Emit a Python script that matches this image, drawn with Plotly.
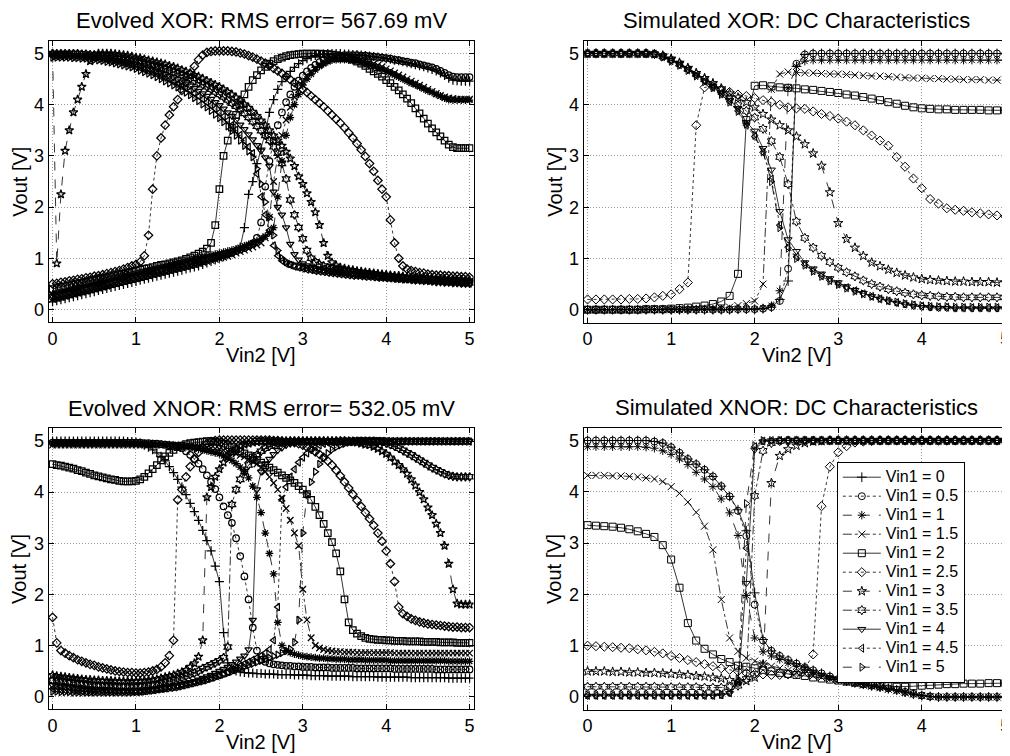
import plotly.graph_objects as go

# ---------------- shared labels / styles ----------------
VIN1_LABELS = ["Vin1 = 0", "Vin1 = 0.5", "Vin1 = 1", "Vin1 = 1.5", "Vin1 = 2", "Vin1 = 2.5",
               "Vin1 = 3", "Vin1 = 3.5", "Vin1 = 4", "Vin1 = 4.5", "Vin1 = 5"]
SYMBOLS = ["cross-thin-open", "circle-open", "asterisk-open", "x-thin-open", "square-open",
           "diamond-open", "star-open", "hexagram-open", "triangle-down-open",
           "triangle-left-open", "triangle-right-open"]
DASHES = ["solid", "dot", "dash", "dashdot", "solid", "dot", "dash", "dashdot", "solid", "dot", "dash"]
TICKS = [0, 1, 2, 3, 4, 5]
TITLES = ["Evolved XOR: RMS error= 567.69 mV", "Simulated XOR: DC Characteristics",
          "Evolved XNOR: RMS error= 532.05 mV", "Simulated XNOR: DC Characteristics"]

# Vin2 sweep grids
X_EVOLVED = [round(0.05 * i, 2) for i in range(101)]
X_SIM = [round(0.1 * i, 1) for i in range(51)]

# ---------------- Evolved XOR (Vout per Vin2 step of 0.05 V) ----------------
XOR_EVO_0 = [0.15,0.17,0.19,0.21,0.23,0.25,0.27,0.29,0.31,0.33,
             0.35,0.37,0.39,0.41,0.43,0.45,0.47,0.49,0.51,0.53,
             0.55,0.57,0.59,0.61,0.63,0.65,0.67,0.69,0.71,0.73,
             0.75,0.77,0.79,0.81,0.83,0.85,0.88,0.91,0.94,0.97,
             1.00,1.03,1.07,1.11,1.16,1.22,1.60,2.25,2.50,2.85,
             3.15,3.45,3.85,4.10,4.30,4.45,4.55,4.65,4.73,4.80,
             4.86,4.90,4.94,4.96,4.98,4.99,5.00,5.00,5.00,5.00,
             4.99,4.99,4.98,4.98,4.97,4.96,4.95,4.94,4.93,4.92,
             4.90,4.89,4.87,4.86,4.84,4.82,4.80,4.78,4.76,4.74,
             4.72,4.69,4.66,4.62,4.57,4.52,4.48,4.47,4.46,4.46,
             4.46]
XOR_EVO_05 = [0.25,0.27,0.29,0.31,0.33,0.35,0.37,0.39,0.41,0.43,
              0.45,0.47,0.49,0.51,0.53,0.55,0.57,0.59,0.61,0.63,
              0.65,0.67,0.69,0.71,0.73,0.75,0.77,0.79,0.81,0.83,
              0.85,0.87,0.89,0.91,0.93,0.95,0.97,0.99,1.01,1.03,
              1.05,1.07,1.09,1.11,1.14,1.17,1.20,1.24,1.29,1.40,
              1.70,2.40,2.90,3.30,3.60,3.85,4.05,4.20,4.35,4.47,
              4.57,4.65,4.72,4.78,4.83,4.87,4.90,4.93,4.95,4.96,
              4.97,4.97,4.97,4.97,4.96,4.96,4.95,4.94,4.93,4.92,
              4.91,4.90,4.88,4.87,4.85,4.84,4.82,4.81,4.79,4.77,
              4.75,4.73,4.70,4.66,4.62,4.58,4.55,4.54,4.54,4.54,
              4.54]
XOR_EVO_1 = [0.30,0.32,0.34,0.36,0.38,0.40,0.42,0.44,0.46,0.48,
             0.50,0.52,0.54,0.56,0.58,0.60,0.62,0.64,0.66,0.68,
             0.70,0.72,0.74,0.76,0.78,0.80,0.82,0.84,0.86,0.88,
             0.90,0.92,0.94,0.96,0.98,1.00,1.02,1.04,1.06,1.08,
             1.10,1.12,1.14,1.16,1.18,1.21,1.24,1.27,1.30,1.34,
             1.38,1.43,1.50,1.60,2.20,2.90,3.40,3.75,4.00,4.20,
             4.38,4.50,4.60,4.68,4.75,4.80,4.84,4.87,4.88,4.88,
             4.88,4.87,4.86,4.85,4.83,4.81,4.78,4.75,4.72,4.69,
             4.65,4.62,4.58,4.54,4.50,4.46,4.42,4.39,4.35,4.31,
             4.27,4.24,4.20,4.17,4.13,4.10,4.09,4.09,4.09,4.09,
             4.09]
XOR_EVO_15 = [0.20,0.22,0.24,0.26,0.28,0.30,0.32,0.34,0.36,0.38,
              0.40,0.42,0.44,0.46,0.48,0.50,0.52,0.54,0.56,0.58,
              0.60,0.62,0.64,0.66,0.68,0.70,0.72,0.74,0.76,0.78,
              0.80,0.82,0.84,0.86,0.88,0.90,0.92,0.94,0.96,0.98,
              1.00,1.02,1.04,1.07,1.10,1.13,1.16,1.19,1.22,1.26,
              1.30,1.40,1.80,2.50,3.00,3.40,3.70,3.95,4.15,4.30,
              4.45,4.55,4.64,4.72,4.78,4.83,4.87,4.90,4.92,4.93,
              4.93,4.92,4.91,4.90,4.88,4.86,4.83,4.80,4.77,4.74,
              4.70,4.66,4.62,4.58,4.54,4.50,4.46,4.42,4.38,4.34,
              4.30,4.26,4.22,4.18,4.15,4.13,4.12,4.11,4.11,4.11,
              4.11]
XOR_EVO_2 = [0.40,0.42,0.44,0.45,0.47,0.49,0.51,0.52,0.54,0.56,
             0.58,0.60,0.62,0.63,0.65,0.67,0.69,0.70,0.72,0.74,
             0.76,0.78,0.80,0.81,0.83,0.85,0.87,0.88,0.90,0.92,
             0.94,0.96,0.99,1.02,1.05,1.09,1.13,1.19,1.30,1.65,
             2.35,3.00,3.30,3.55,3.80,4.00,4.20,4.35,4.48,4.58,
             4.67,4.74,4.80,4.85,4.89,4.92,4.95,4.97,4.98,4.99,
             5.00,5.00,5.00,5.00,5.00,4.99,4.99,4.98,4.97,4.95,
             4.93,4.91,4.88,4.84,4.80,4.76,4.70,4.65,4.60,4.55,
             4.48,4.42,4.35,4.28,4.20,4.12,4.03,3.93,3.83,3.73,
             3.63,3.54,3.46,3.38,3.30,3.22,3.17,3.15,3.15,3.15,
             3.15]
XOR_EVO_25 = [0.50,0.51,0.53,0.54,0.56,0.57,0.59,0.60,0.62,0.63,
              0.65,0.66,0.68,0.70,0.72,0.74,0.76,0.79,0.82,0.85,
              0.88,0.93,1.05,1.45,2.35,3.00,3.35,3.60,3.80,3.96,
              4.10,4.28,4.45,4.60,4.75,4.88,4.97,5.02,5.04,5.05,
              5.05,5.05,5.05,5.04,5.03,5.01,4.99,4.96,4.93,4.89,
              4.85,4.81,4.76,4.71,4.66,4.61,4.55,4.49,4.43,4.37,
              4.30,4.24,4.17,4.10,4.03,3.96,3.88,3.80,3.72,3.64,
              3.55,3.45,3.35,3.24,3.12,2.99,2.85,2.70,2.52,2.35,
              2.20,1.75,1.30,1.00,0.85,0.79,0.76,0.74,0.72,0.71,
              0.69,0.68,0.67,0.67,0.66,0.66,0.65,0.65,0.64,0.64,
              0.63]
XOR_EVO_3 = [5.00,0.90,2.25,3.10,3.50,3.85,4.10,4.35,4.60,4.85,
             4.97,5.00,5.00,5.00,5.00,4.99,4.98,4.97,4.96,4.94,
             4.92,4.91,4.89,4.87,4.85,4.83,4.81,4.79,4.76,4.74,
             4.71,4.68,4.65,4.62,4.58,4.55,4.51,4.47,4.43,4.39,
             4.35,4.30,4.25,4.20,4.14,4.08,4.01,3.94,3.86,3.78,
             3.69,3.60,3.50,3.40,3.30,3.20,3.08,2.95,2.80,2.60,
             2.45,2.27,2.10,1.90,1.65,1.30,1.05,0.92,0.86,0.82,
             0.80,0.78,0.77,0.75,0.74,0.73,0.72,0.71,0.70,0.69,
             0.68,0.67,0.66,0.66,0.65,0.64,0.63,0.63,0.62,0.62,
             0.61,0.61,0.60,0.60,0.59,0.59,0.58,0.58,0.58,0.57,
             0.57]
XOR_EVO_35 = [5.00,5.00,5.00,5.00,5.00,5.00,5.00,4.99,4.99,4.98,
              4.97,4.96,4.95,4.94,4.93,4.92,4.91,4.90,4.88,4.87,
              4.85,4.83,4.81,4.79,4.77,4.75,4.72,4.70,4.67,4.64,
              4.61,4.58,4.55,4.51,4.47,4.43,4.39,4.35,4.30,4.25,
              4.20,4.15,4.09,4.03,3.97,3.90,3.83,3.75,3.67,3.58,
              3.49,3.40,3.30,3.18,3.05,2.85,2.55,2.14,1.85,1.60,
              1.38,1.15,1.00,0.93,0.88,0.85,0.82,0.80,0.78,0.77,
              0.76,0.75,0.73,0.72,0.71,0.70,0.69,0.68,0.67,0.66,
              0.66,0.65,0.64,0.63,0.62,0.61,0.61,0.60,0.59,0.58,
              0.58,0.57,0.56,0.56,0.55,0.55,0.54,0.54,0.53,0.53,
              0.52]
XOR_EVO_4 = [4.98,4.98,4.98,4.98,4.98,4.97,4.97,4.96,4.96,4.95,
             4.94,4.93,4.92,4.91,4.90,4.88,4.87,4.85,4.83,4.81,
             4.79,4.77,4.74,4.72,4.69,4.66,4.63,4.60,4.56,4.53,
             4.49,4.45,4.41,4.37,4.32,4.27,4.22,4.17,4.11,4.05,
             3.99,3.92,3.85,3.78,3.70,3.61,3.52,3.42,3.32,3.21,
             3.10,2.97,2.80,2.30,2.00,1.85,1.60,1.28,1.08,0.97,
             0.90,0.86,0.83,0.81,0.79,0.77,0.76,0.75,0.74,0.73,
             0.72,0.71,0.70,0.69,0.68,0.67,0.66,0.65,0.64,0.63,
             0.62,0.61,0.60,0.59,0.58,0.58,0.57,0.56,0.56,0.55,
             0.55,0.54,0.53,0.53,0.52,0.52,0.51,0.51,0.50,0.50,
             0.50]
XOR_EVO_45 = [4.95,4.95,4.95,4.95,4.95,4.94,4.94,4.93,4.93,4.92,
              4.91,4.90,4.89,4.88,4.86,4.85,4.83,4.81,4.79,4.77,
              4.74,4.72,4.69,4.66,4.63,4.60,4.56,4.53,4.49,4.45,
              4.41,4.37,4.32,4.27,4.22,4.17,4.11,4.05,3.99,3.92,
              3.85,3.77,3.69,3.60,3.51,3.41,3.30,3.18,3.05,2.65,
              2.20,1.85,1.55,1.25,1.05,0.95,0.90,0.87,0.84,0.82,
              0.80,0.78,0.77,0.75,0.74,0.73,0.72,0.71,0.70,0.69,
              0.68,0.67,0.66,0.66,0.65,0.64,0.64,0.63,0.62,0.62,
              0.61,0.61,0.60,0.60,0.59,0.59,0.58,0.58,0.57,0.57,
              0.56,0.56,0.55,0.55,0.54,0.54,0.53,0.53,0.52,0.52,
              0.51]
XOR_EVO_5 = [4.92,4.92,4.92,4.92,4.92,4.91,4.91,4.90,4.90,4.89,
             4.88,4.87,4.86,4.84,4.83,4.81,4.79,4.77,4.75,4.73,
             4.70,4.67,4.64,4.61,4.58,4.54,4.50,4.46,4.42,4.38,
             4.34,4.29,4.24,4.19,4.13,4.07,4.01,3.95,3.88,3.81,
             3.74,3.66,3.58,3.49,3.40,3.30,3.20,3.09,2.98,2.75,
             2.45,2.10,1.80,1.45,1.15,1.00,0.93,0.89,0.86,0.84,
             0.83,0.81,0.80,0.78,0.77,0.76,0.75,0.74,0.73,0.72,
             0.71,0.70,0.69,0.68,0.68,0.67,0.66,0.66,0.65,0.64,
             0.64,0.63,0.63,0.62,0.62,0.61,0.61,0.60,0.60,0.59,
             0.59,0.58,0.58,0.57,0.57,0.57,0.56,0.56,0.56,0.55,
             0.55]

# ---------------- Evolved XNOR ----------------
XNOR_EVO_0 = [5.00,5.00,5.00,5.00,5.00,5.00,5.00,5.00,5.00,5.00,
              5.00,5.00,5.00,5.00,5.00,5.00,5.00,5.00,4.99,4.99,
              4.98,4.96,4.92,4.88,4.83,4.77,4.70,4.61,4.50,4.38,
              4.25,4.10,3.95,3.78,3.62,3.45,3.25,3.05,2.85,2.55,
              2.25,1.25,0.66,0.55,0.50,0.48,0.47,0.46,0.46,0.45,
              0.45,0.44,0.44,0.44,0.43,0.43,0.43,0.43,0.42,0.42,
              0.42,0.42,0.41,0.41,0.41,0.41,0.40,0.40,0.40,0.40,
              0.40,0.40,0.39,0.39,0.39,0.39,0.39,0.39,0.38,0.38,
              0.38,0.38,0.38,0.38,0.38,0.38,0.37,0.37,0.37,0.37,
              0.37,0.37,0.37,0.37,0.37,0.36,0.36,0.36,0.36,0.36,
              0.36]
XNOR_EVO_05 = [4.97,4.97,4.97,4.97,4.97,4.97,4.97,4.97,4.97,4.97,
               4.97,4.97,4.97,4.97,4.97,4.97,4.97,4.97,4.97,4.97,
               4.97,4.97,4.96,4.96,4.95,4.95,4.94,4.93,4.92,4.91,
               4.90,4.86,4.80,4.73,4.65,4.56,4.45,4.33,4.20,4.06,
               3.90,3.72,3.55,3.40,3.10,2.75,2.35,1.90,1.35,0.90,
               0.72,0.68,0.65,0.63,0.62,0.61,0.60,0.60,0.59,0.59,
               0.58,0.58,0.58,0.57,0.57,0.57,0.57,0.56,0.56,0.56,
               0.56,0.56,0.56,0.55,0.55,0.55,0.55,0.55,0.55,0.55,
               0.55,0.55,0.54,0.54,0.54,0.54,0.54,0.54,0.54,0.54,
               0.54,0.54,0.53,0.53,0.53,0.53,0.53,0.53,0.53,0.53,
               0.53]
XNOR_EVO_1 = [4.95,4.95,4.95,4.95,4.95,4.95,4.95,4.95,4.95,4.95,
              4.95,4.95,4.95,4.95,4.95,4.95,4.95,4.95,4.95,4.95,
              4.95,4.95,4.95,4.95,4.95,4.94,4.94,4.93,4.93,4.92,
              4.91,4.90,4.89,4.88,4.86,4.85,4.83,4.81,4.79,4.77,
              4.75,4.71,4.67,4.62,4.56,4.49,4.40,4.28,4.12,3.90,
              3.60,3.20,2.80,2.40,1.45,1.00,0.90,0.86,0.83,0.81,
              0.79,0.78,0.77,0.76,0.75,0.75,0.74,0.74,0.73,0.73,
              0.73,0.72,0.72,0.72,0.72,0.71,0.71,0.71,0.71,0.71,
              0.71,0.70,0.70,0.70,0.70,0.70,0.70,0.70,0.70,0.70,
              0.70,0.70,0.70,0.70,0.70,0.69,0.69,0.69,0.69,0.69,
              0.69]
XNOR_EVO_15 = [4.92,4.92,4.92,4.92,4.92,4.92,4.92,4.92,4.92,4.92,
               4.92,4.92,4.92,4.92,4.92,4.92,4.92,4.92,4.92,4.92,
               4.92,4.92,4.92,4.92,4.92,4.92,4.92,4.92,4.92,4.91,
               4.91,4.91,4.90,4.90,4.89,4.89,4.88,4.87,4.86,4.85,
               4.84,4.82,4.80,4.78,4.75,4.72,4.69,4.65,4.60,4.55,
               4.48,4.40,4.30,4.18,4.05,3.88,3.68,3.45,3.20,2.95,
               2.10,1.50,1.15,1.00,0.95,0.92,0.90,0.89,0.88,0.88,
               0.87,0.87,0.87,0.86,0.86,0.86,0.86,0.86,0.86,0.86,
               0.86,0.86,0.85,0.85,0.85,0.85,0.85,0.85,0.85,0.85,
               0.85,0.85,0.85,0.85,0.85,0.85,0.85,0.85,0.85,0.85,
               0.85]
XNOR_EVO_2 = [4.55,4.53,4.52,4.50,4.48,4.46,4.43,4.41,4.38,4.36,
              4.33,4.31,4.29,4.27,4.25,4.24,4.22,4.21,4.21,4.21,
              4.22,4.25,4.30,4.37,4.45,4.53,4.62,4.70,4.77,4.83,
              4.88,4.91,4.94,4.96,4.97,4.98,4.99,5.00,5.00,4.99,
              4.98,4.95,4.92,4.88,4.84,4.80,4.76,4.72,4.68,4.63,
              4.58,4.53,4.48,4.43,4.38,4.33,4.28,4.23,4.18,4.12,
              4.05,3.96,3.85,3.71,3.55,3.38,3.20,3.02,2.80,2.45,
              1.90,1.45,1.30,1.23,1.18,1.15,1.13,1.12,1.11,1.11,
              1.10,1.10,1.09,1.09,1.09,1.08,1.08,1.08,1.08,1.07,
              1.07,1.07,1.07,1.06,1.06,1.06,1.06,1.05,1.05,1.05,
              1.05]
XNOR_EVO_25 = [1.55,1.05,0.90,0.85,0.80,0.76,0.72,0.69,0.66,0.63,
               0.61,0.58,0.56,0.54,0.52,0.50,0.49,0.48,0.47,0.47,
               0.46,0.46,0.47,0.48,0.50,0.53,0.58,0.66,0.80,1.10,
               3.85,4.05,4.30,4.50,4.65,4.78,4.88,4.95,4.99,5.01,
               5.02,5.02,5.02,5.02,5.02,5.02,5.02,5.02,5.02,5.02,
               5.02,5.02,5.02,5.01,5.01,5.00,4.99,4.98,4.97,4.95,
               4.92,4.88,4.84,4.79,4.74,4.68,4.61,4.53,4.43,4.32,
               4.20,4.08,3.96,3.84,3.72,3.60,3.48,3.35,3.20,3.04,
               2.85,2.60,2.25,1.75,1.62,1.57,1.52,1.49,1.46,1.44,
               1.42,1.41,1.40,1.39,1.38,1.37,1.36,1.36,1.35,1.35,
               1.35]
XNOR_EVO_3 = [0.42,0.40,0.39,0.38,0.37,0.36,0.35,0.34,0.33,0.33,
              0.32,0.32,0.31,0.31,0.31,0.30,0.30,0.30,0.30,0.30,
              0.30,0.31,0.31,0.32,0.33,0.34,0.36,0.38,0.40,0.42,
              0.45,0.48,0.52,0.58,0.65,0.78,1.10,3.90,4.10,4.30,
              4.45,4.58,4.70,4.78,4.85,4.90,4.93,4.95,4.97,4.98,
              4.99,4.99,5.00,5.00,5.00,5.00,5.00,5.00,5.00,5.00,
              5.00,5.00,5.00,5.00,5.00,5.00,5.00,5.00,5.00,5.00,
              5.00,4.99,4.98,4.97,4.95,4.93,4.92,4.89,4.85,4.80,
              4.75,4.68,4.60,4.53,4.45,4.36,4.25,4.13,4.00,3.86,
              3.70,3.55,3.38,3.20,2.95,2.60,2.10,1.82,1.80,1.80,
              1.80]
XNOR_EVO_35 = [0.32,0.31,0.30,0.29,0.28,0.27,0.26,0.25,0.24,0.23,
               0.22,0.22,0.21,0.21,0.21,0.20,0.20,0.20,0.20,0.20,
               0.20,0.20,0.21,0.22,0.23,0.24,0.26,0.28,0.30,0.33,
               0.35,0.37,0.40,0.43,0.46,0.50,0.55,0.58,0.62,0.66,
               0.70,0.76,0.97,3.76,4.05,4.25,4.40,4.53,4.65,4.73,
               4.80,4.86,4.90,4.93,4.96,4.98,4.99,5.00,5.00,5.00,
               5.00,5.00,5.00,5.00,5.00,5.00,5.00,5.00,5.00,5.00,
               5.00,5.00,5.00,5.00,5.00,5.00,5.00,5.00,4.99,4.98,
               4.96,4.93,4.90,4.86,4.82,4.77,4.73,4.68,4.63,4.58,
               4.53,4.48,4.44,4.40,4.36,4.33,4.31,4.30,4.30,4.30,
               4.30]
XNOR_EVO_4 = [0.22,0.21,0.20,0.19,0.18,0.17,0.16,0.16,0.15,0.15,
              0.14,0.14,0.13,0.13,0.13,0.12,0.12,0.12,0.12,0.12,
              0.12,0.12,0.13,0.14,0.15,0.16,0.17,0.18,0.20,0.21,
              0.22,0.24,0.26,0.28,0.30,0.33,0.36,0.39,0.42,0.46,
              0.50,0.54,0.58,0.63,0.68,0.74,0.80,0.92,1.50,4.05,
              4.40,4.55,4.65,4.74,4.82,4.87,4.92,4.95,4.97,4.99,
              5.00,5.00,5.00,5.00,5.00,5.00,5.00,5.00,5.00,5.00,
              5.00,5.00,5.00,5.00,5.00,5.00,5.00,5.00,5.00,5.00,
              5.00,5.00,5.00,5.00,5.00,5.00,5.00,5.00,5.00,5.00,
              5.00,5.00,5.00,5.00,5.00,5.00,5.00,5.00,5.00,5.00,
              5.00]
XNOR_EVO_45 = [0.15,0.14,0.13,0.13,0.12,0.12,0.11,0.11,0.10,0.10,
               0.10,0.10,0.10,0.10,0.10,0.10,0.10,0.10,0.10,0.10,
               0.10,0.10,0.11,0.12,0.13,0.14,0.15,0.16,0.18,0.19,
               0.20,0.22,0.24,0.26,0.28,0.30,0.32,0.35,0.37,0.40,
               0.42,0.45,0.48,0.52,0.56,0.60,0.64,0.68,0.72,0.76,
               0.80,0.85,0.92,1.10,1.75,3.85,4.10,4.30,4.45,4.58,
               4.68,4.76,4.83,4.88,4.92,4.95,4.97,4.98,4.99,5.00,
               5.00,5.00,5.00,5.00,5.00,5.00,5.00,5.00,5.00,5.00,
               4.99,4.99,4.99,4.99,4.99,4.99,4.99,4.99,4.99,4.99,
               4.99,4.99,4.99,4.99,4.99,4.99,4.99,4.99,4.99,4.99,
               4.99]
XNOR_EVO_5 = [0.10,0.10,0.09,0.09,0.09,0.08,0.08,0.08,0.08,0.08,
              0.08,0.08,0.08,0.08,0.08,0.08,0.08,0.08,0.08,0.08,
              0.09,0.09,0.10,0.11,0.12,0.13,0.14,0.15,0.16,0.17,
              0.18,0.20,0.22,0.24,0.26,0.28,0.30,0.32,0.35,0.37,
              0.40,0.43,0.46,0.49,0.52,0.55,0.58,0.61,0.64,0.67,
              0.70,0.73,0.76,0.79,0.82,0.85,0.89,0.93,1.06,1.50,
              3.20,3.96,4.20,4.40,4.55,4.67,4.76,4.83,4.88,4.92,
              4.95,4.97,4.98,4.99,5.00,5.00,5.00,5.00,5.00,5.00,
              5.00,5.00,5.00,5.00,5.00,5.00,5.00,5.00,5.00,5.00,
              5.00,5.00,5.00,5.00,5.00,5.00,5.00,5.00,5.00,5.00,
              5.00]

# ---------------- Simulated XOR (Vin2 step 0.1 V) ----------------
XOR_SIM_0 = [0.00,0.00,0.00,0.00,0.00,0.00,0.00,0.00,0.00,0.00,
             0.00,0.00,0.00,0.00,0.00,0.00,0.00,0.00,0.01,0.01,
             0.01,0.02,0.05,0.20,0.56,4.75,4.98,5.00,5.00,5.00,
             5.00,5.00,5.00,5.00,5.00,5.00,5.00,5.00,5.00,5.00,
             5.00,5.00,5.00,5.00,5.00,5.00,5.00,5.00,5.00,5.00,
             5.00]
XOR_SIM_05 = [0.00,0.00,0.00,0.00,0.00,0.00,0.00,0.00,0.00,0.00,
              0.00,0.00,0.00,0.00,0.00,0.00,0.00,0.00,0.01,0.01,
              0.01,0.02,0.05,0.17,0.80,4.80,4.98,5.00,5.00,5.00,
              5.00,5.00,5.00,5.00,5.00,5.00,5.00,5.00,5.00,5.00,
              5.00,5.00,5.00,5.00,5.00,5.00,5.00,5.00,5.00,5.00,
              5.00]
XOR_SIM_1 = [0.00,0.00,0.00,0.00,0.00,0.00,0.00,0.00,0.00,0.00,
             0.00,0.00,0.00,0.00,0.00,0.00,0.00,0.00,0.01,0.01,
             0.01,0.03,0.08,0.37,4.33,4.75,4.85,4.87,4.87,4.87,
             4.87,4.87,4.87,4.87,4.87,4.87,4.87,4.87,4.87,4.87,
             4.87,4.87,4.87,4.87,4.87,4.87,4.87,4.87,4.87,4.87,
             4.87]
XOR_SIM_15 = [0.00,0.00,0.00,0.00,0.00,0.00,0.00,0.00,0.00,0.00,
              0.00,0.00,0.00,0.01,0.01,0.02,0.03,0.05,0.08,0.12,
              0.17,0.50,4.30,4.60,4.64,4.63,4.62,4.62,4.61,4.60,
              4.60,4.59,4.58,4.57,4.56,4.56,4.55,4.54,4.53,4.52,
              4.52,4.51,4.51,4.50,4.50,4.49,4.49,4.49,4.48,4.48,
              4.48]
XOR_SIM_2 = [0.00,0.00,0.00,0.00,0.00,0.00,0.00,0.01,0.01,0.01,
             0.02,0.03,0.04,0.06,0.08,0.11,0.16,0.27,0.70,3.70,
             4.37,4.38,4.36,4.34,4.33,4.32,4.30,4.29,4.27,4.25,
             4.23,4.20,4.18,4.15,4.12,4.09,4.05,4.02,3.98,3.95,
             3.93,3.92,3.91,3.91,3.90,3.90,3.90,3.90,3.89,3.89,
             3.89]
XOR_SIM_25 = [0.20,0.20,0.20,0.20,0.20,0.21,0.21,0.22,0.24,0.27,
              0.30,0.40,0.53,3.60,4.34,4.35,4.30,4.25,4.20,4.17,
              4.13,4.09,4.05,4.00,3.95,3.93,3.92,3.87,3.82,3.78,
              3.73,3.67,3.60,3.50,3.40,3.30,3.20,2.98,2.79,2.56,
              2.37,2.16,2.07,1.98,1.95,1.93,1.90,1.88,1.86,1.84,
              1.82]
XOR_SIM_3 = [5.00,5.00,5.00,5.00,5.00,5.00,5.00,5.00,4.99,4.96,
             4.90,4.82,4.72,4.62,4.52,4.42,4.32,4.22,4.14,4.05,
             3.95,3.82,3.71,3.60,3.50,3.38,3.23,3.05,2.81,2.29,
             1.69,1.38,1.21,1.05,0.92,0.85,0.78,0.72,0.67,0.63,
             0.60,0.58,0.57,0.56,0.55,0.55,0.54,0.54,0.54,0.53,
             0.53]
XOR_SIM_35 = [5.00,5.00,5.00,5.00,5.00,5.00,5.00,5.00,4.99,4.95,
              4.88,4.80,4.70,4.60,4.50,4.40,4.28,4.14,3.99,3.88,
              3.75,3.53,3.29,2.98,2.45,1.72,1.40,1.21,1.05,0.93,
              0.82,0.73,0.65,0.57,0.50,0.45,0.40,0.36,0.33,0.30,
              0.28,0.27,0.26,0.25,0.25,0.24,0.24,0.24,0.24,0.24,
              0.24]
XOR_SIM_4 = [5.00,5.00,5.00,5.00,5.00,5.00,5.00,5.00,4.99,4.94,
             4.87,4.79,4.69,4.58,4.47,4.36,4.23,4.09,3.93,3.66,
             3.49,3.15,2.73,1.92,1.37,1.14,0.92,0.80,0.70,0.61,
             0.53,0.45,0.38,0.32,0.26,0.21,0.17,0.13,0.10,0.07,
             0.05,0.04,0.03,0.03,0.02,0.02,0.02,0.02,0.02,0.02,
             0.02]
XOR_SIM_45 = [5.00,5.00,5.00,5.00,5.00,5.00,5.00,5.00,4.99,4.94,
              4.86,4.78,4.68,4.57,4.46,4.34,4.21,4.06,3.88,3.60,
              3.38,3.07,2.55,1.65,1.22,1.03,0.88,0.76,0.66,0.57,
              0.50,0.43,0.37,0.31,0.26,0.21,0.17,0.14,0.11,0.09,
              0.07,0.06,0.05,0.05,0.04,0.04,0.04,0.04,0.04,0.04,
              0.04]
XOR_SIM_5 = [5.00,5.00,5.00,5.00,5.00,5.00,5.00,5.00,4.99,4.93,
             4.85,4.77,4.67,4.56,4.45,4.33,4.20,4.05,3.87,3.62,
             3.40,3.08,2.50,1.60,1.20,1.00,0.87,0.75,0.65,0.56,
             0.49,0.42,0.36,0.31,0.26,0.22,0.18,0.15,0.12,0.10,
             0.08,0.07,0.06,0.06,0.05,0.05,0.05,0.05,0.05,0.05,
             0.05]

# ---------------- Simulated XNOR ----------------
XNOR_SIM_0 = [5.00,5.00,5.00,5.00,5.00,5.00,5.00,5.00,4.98,4.95,
              4.87,4.76,4.64,4.54,4.43,4.30,4.11,3.91,3.65,3.24,
              2.03,1.12,0.90,0.80,0.72,0.65,0.58,0.52,0.46,0.40,
              0.35,0.31,0.28,0.25,0.22,0.20,0.17,0.14,0.10,0.06,
              0.03,0.01,0.00,0.00,0.00,0.00,0.00,0.00,0.00,0.00,
              0.00]
XNOR_SIM_05 = [5.00,5.00,5.00,5.00,5.00,5.00,5.00,5.00,4.98,4.95,
               4.87,4.76,4.64,4.54,4.43,4.30,4.11,3.91,3.63,3.14,
               1.80,1.10,0.90,0.80,0.72,0.65,0.58,0.52,0.46,0.40,
               0.35,0.31,0.28,0.25,0.22,0.20,0.17,0.14,0.10,0.06,
               0.03,0.01,0.00,0.00,0.00,0.00,0.00,0.00,0.00,0.00,
               0.00]
XNOR_SIM_1 = [4.88,4.88,4.88,4.88,4.88,4.88,4.88,4.87,4.85,4.80,
              4.73,4.64,4.53,4.38,4.25,4.10,3.86,3.59,3.15,1.98,
              1.15,0.88,0.80,0.73,0.66,0.60,0.54,0.48,0.43,0.38,
              0.34,0.30,0.27,0.24,0.21,0.18,0.15,0.12,0.08,0.05,
              0.02,0.01,0.00,0.00,0.00,0.00,0.00,0.00,0.00,0.00,
              0.00]
XNOR_SIM_15 = [4.32,4.32,4.32,4.31,4.31,4.30,4.29,4.27,4.25,4.20,
               4.10,3.97,3.80,3.60,3.33,2.87,1.90,1.15,0.89,0.76,
               0.70,0.65,0.60,0.56,0.52,0.48,0.45,0.41,0.38,0.35,
               0.32,0.29,0.26,0.23,0.21,0.18,0.15,0.12,0.09,0.06,
               0.03,0.01,0.00,0.00,0.00,0.00,0.00,0.00,0.00,0.00,
               0.00]
XNOR_SIM_2 = [3.35,3.34,3.33,3.32,3.30,3.27,3.23,3.18,3.12,2.96,
              2.68,2.13,1.44,1.10,0.94,0.83,0.74,0.68,0.61,0.59,
              0.56,0.53,0.50,0.47,0.45,0.43,0.41,0.38,0.36,0.34,
              0.32,0.30,0.28,0.26,0.24,0.22,0.21,0.20,0.20,0.21,
              0.22,0.23,0.24,0.25,0.25,0.26,0.26,0.26,0.27,0.27,
              0.27]
XNOR_SIM_25 = [1.00,0.99,0.98,0.97,0.96,0.95,0.93,0.91,0.88,0.85,
               0.80,0.76,0.72,0.68,0.64,0.60,0.56,0.53,0.50,0.47,
               0.45,0.44,0.43,0.43,0.44,0.46,0.55,0.83,3.72,4.49,
               4.77,4.89,4.96,4.98,4.99,5.00,5.00,5.00,5.00,5.00,
               5.00,5.00,5.00,5.00,5.00,5.00,5.00,5.00,5.00,5.00,
               5.00]
XNOR_SIM_3 = [0.50,0.50,0.50,0.49,0.49,0.48,0.48,0.47,0.47,0.46,
              0.45,0.44,0.43,0.41,0.40,0.38,0.36,0.33,0.30,0.31,
              0.38,0.63,4.17,4.70,4.83,4.90,4.95,4.98,4.99,5.00,
              5.00,5.00,5.00,5.00,5.00,5.00,5.00,5.00,5.00,5.00,
              5.00,5.00,5.00,5.00,5.00,5.00,5.00,5.00,5.00,5.00,
              5.00]
XNOR_SIM_35 = [0.20,0.20,0.20,0.20,0.20,0.20,0.20,0.20,0.20,0.19,
               0.19,0.19,0.19,0.19,0.18,0.18,0.18,0.19,0.22,0.35,
               3.92,4.80,4.95,4.99,5.00,5.00,5.00,5.00,5.00,5.00,
               5.00,5.00,5.00,5.00,5.00,5.00,5.00,5.00,5.00,5.00,
               5.00,5.00,5.00,5.00,5.00,5.00,5.00,5.00,5.00,5.00,
               5.00]
XNOR_SIM_4 = [0.02,0.02,0.02,0.02,0.02,0.02,0.02,0.02,0.02,0.02,
              0.02,0.02,0.02,0.02,0.02,0.02,0.03,0.07,0.25,2.22,
              4.82,4.98,5.00,5.00,5.00,5.00,5.00,5.00,5.00,5.00,
              5.00,5.00,5.00,5.00,5.00,5.00,5.00,5.00,5.00,5.00,
              5.00,5.00,5.00,5.00,5.00,5.00,5.00,5.00,5.00,5.00,
              5.00]
XNOR_SIM_45 = [0.03,0.03,0.03,0.03,0.03,0.03,0.03,0.03,0.03,0.03,
               0.03,0.03,0.03,0.03,0.03,0.03,0.04,0.08,0.30,2.90,
               4.88,4.99,5.00,5.00,5.00,5.00,5.00,5.00,5.00,5.00,
               5.00,5.00,5.00,5.00,5.00,5.00,5.00,5.00,5.00,5.00,
               5.00,5.00,5.00,5.00,5.00,5.00,5.00,5.00,5.00,5.00,
               5.00]
XNOR_SIM_5 = [0.04,0.04,0.04,0.04,0.04,0.04,0.04,0.04,0.04,0.04,
              0.04,0.04,0.04,0.04,0.04,0.04,0.05,0.10,0.35,3.77,
              4.90,5.00,5.00,5.00,5.00,5.00,5.00,5.00,5.00,5.00,
              5.00,5.00,5.00,5.00,5.00,5.00,5.00,5.00,5.00,5.00,
              5.00,5.00,5.00,5.00,5.00,5.00,5.00,5.00,5.00,5.00,
              5.00]

PANELS = [
    ("x", "y", X_EVOLVED, [XOR_EVO_0, XOR_EVO_05, XOR_EVO_1, XOR_EVO_15, XOR_EVO_2, XOR_EVO_25,
                           XOR_EVO_3, XOR_EVO_35, XOR_EVO_4, XOR_EVO_45, XOR_EVO_5], 6.5, 1.25, False),
    ("x2", "y2", X_SIM, [XOR_SIM_0, XOR_SIM_05, XOR_SIM_1, XOR_SIM_15, XOR_SIM_2, XOR_SIM_25,
                         XOR_SIM_3, XOR_SIM_35, XOR_SIM_4, XOR_SIM_45, XOR_SIM_5], 7, 1.0, False),
    ("x3", "y3", X_EVOLVED, [XNOR_EVO_0, XNOR_EVO_05, XNOR_EVO_1, XNOR_EVO_15, XNOR_EVO_2, XNOR_EVO_25,
                             XNOR_EVO_3, XNOR_EVO_35, XNOR_EVO_4, XNOR_EVO_45, XNOR_EVO_5], 6.5, 1.25, False),
    ("x4", "y4", X_SIM, [XNOR_SIM_0, XNOR_SIM_05, XNOR_SIM_1, XNOR_SIM_15, XNOR_SIM_2, XNOR_SIM_25,
                         XNOR_SIM_3, XNOR_SIM_35, XNOR_SIM_4, XNOR_SIM_45, XNOR_SIM_5], 7, 1.0, True),
]

FONT = "Liberation Sans, Arial, Helvetica, sans-serif"
# the page body has an 8 px margin: the figure starts at (8, 8) in the window
OFF = 8
W, H = 1010 - OFF, 756 - OFF

fig = go.Figure()
for xa, ya, xs, series, msize, mwidth, legend in PANELS:
    for i, ys in enumerate(series):
        fig.add_trace(go.Scatter(
            x=xs, y=ys, xaxis=xa, yaxis=ya, mode="lines+markers",
            name='<span style="font-size:16px">' + VIN1_LABELS[i] + '</span>',
            showlegend=legend,
            line=dict(color="black", width=0.8, dash=DASHES[i]),
            marker=dict(symbol=SYMBOLS[i], size=msize, color="black",
                        line=dict(color="black", width=mwidth)),
        ))

# axes boxes in window pixels (left, right, top, bottom)
BOXES = {
    "1": (47.7, 474.0, 40.7, 322.3),
    "2": (584.3, 1010.0, 40.7, 322.5),
    "3": (47.7, 474.0, 428.3, 709.3),
    "4": (584.3, 1010.0, 427.7, 709.8),
}
XRANGES = {"1": [-0.048, 5.048], "2": [-0.048, 5.032], "3": [-0.048, 5.048], "4": [-0.048, 5.032]}


def fx(px):
    return (px - OFF) / W


def fy(py):
    return 1 - (py - OFF) / H


axis_common = dict(showline=True, linecolor="black", linewidth=1, mirror="allticks",
                   ticks="inside", ticklen=5, tickwidth=1, tickcolor="black",
                   showgrid=True, gridcolor="#999999", griddash="1px,2px", gridwidth=1,
                   zeroline=False, tickvals=TICKS, ticklabeloverflow="allow",
                   tickfont=dict(family=FONT, size=18, color="black"))

layout_axes = {}
for k, (l, r, t, b) in BOXES.items():
    suffix = "" if k == "1" else k
    layout_axes["xaxis" + suffix] = dict(axis_common, domain=[fx(l), min(1.0, fx(r))], range=XRANGES[k],
                                         anchor="y" + suffix)
    layout_axes["yaxis" + suffix] = dict(axis_common, domain=[fy(b), fy(t)], range=[-0.25, 5.25],
                                         anchor="x" + suffix)

annotations = []
for k, title in zip(["1", "2", "3", "4"], TITLES):
    l, r, t, b = BOXES[k]
    rr = 1011.5 if k in ("2", "4") else r
    cx = fx((l + rr) / 2)
    annotations.append(dict(text=title, x=cx, y=fy(t - 19.9), xref="paper", yref="paper",
                            showarrow=False, xanchor="center", yanchor="middle",
                            font=dict(family=FONT, size=22, color="black")))
    annotations.append(dict(text="Vin2 [V]", x=cx, y=fy(b + 32.5), xref="paper", yref="paper",
                            showarrow=False, xanchor="center", yanchor="middle",
                            font=dict(family=FONT, size=20, color="black")))
    annotations.append(dict(text="Vout [V]", x=fx(l - 29.5), y=fy((t + b) / 2), xref="paper",
                            yref="paper", showarrow=False, xanchor="center", yanchor="middle",
                            textangle=-90, font=dict(family=FONT, size=20, color="black")))

fig.update_layout(
    width=W, height=H, autosize=False,
    margin=dict(l=0, r=0, t=0, b=0),
    paper_bgcolor="white", plot_bgcolor="white",
    font=dict(family=FONT, color="black"),
    annotations=annotations,
    legend=dict(x=fx(838.3), y=fy(461.7), xanchor="left", yanchor="top",
                bgcolor="white", bordercolor="black", borderwidth=1,
                font=dict(family=FONT, size=12, color="black"),
                itemwidth=38, tracegroupgap=0),
    **layout_axes,
)

fig.write_html("out.html")
